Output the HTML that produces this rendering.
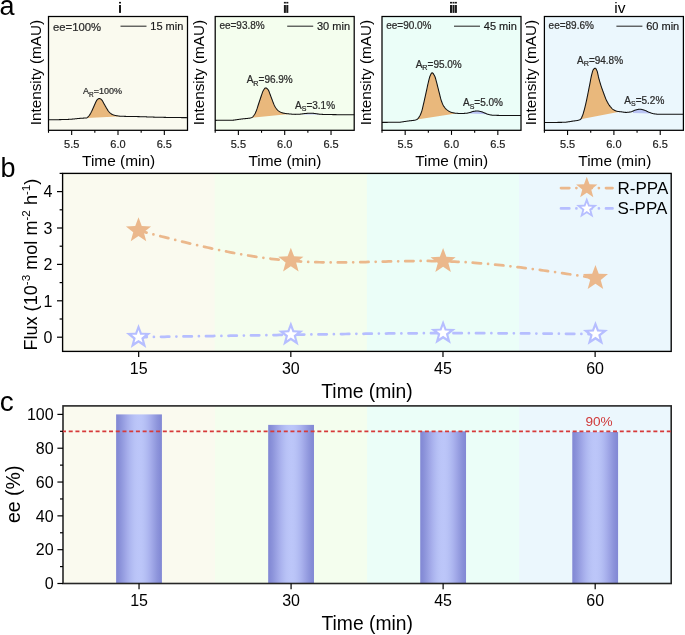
<!DOCTYPE html><html><head><meta charset="utf-8"><style>html,body{margin:0;padding:0;background:#fff;}body{width:685px;height:635px;position:relative;overflow:hidden;}svg{will-change:transform;}</style></head><body><svg width="685" height="635" viewBox="0 0 685 635" style="position:absolute;left:0;top:0">
<defs><linearGradient id="bar" x1="0" x2="1" y1="0" y2="0"><stop offset="0" stop-color="#8288D4"/><stop offset="0.05" stop-color="#868DD7"/><stop offset="0.1" stop-color="#8D94DB"/><stop offset="0.15" stop-color="#959DE0"/><stop offset="0.2" stop-color="#9EA5E6"/><stop offset="0.25" stop-color="#A6AEEB"/><stop offset="0.3" stop-color="#ADB6F0"/><stop offset="0.35" stop-color="#B3BDF3"/><stop offset="0.4" stop-color="#B8C2F6"/><stop offset="0.45" stop-color="#BBC5F8"/><stop offset="0.5" stop-color="#BCC6F9"/><stop offset="0.55" stop-color="#BBC5F8"/><stop offset="0.6" stop-color="#B8C2F6"/><stop offset="0.65" stop-color="#B3BDF3"/><stop offset="0.7" stop-color="#ADB6F0"/><stop offset="0.75" stop-color="#A6AEEB"/><stop offset="0.8" stop-color="#9EA5E6"/><stop offset="0.85" stop-color="#959DE0"/><stop offset="0.9" stop-color="#8D94DB"/><stop offset="0.95" stop-color="#868DD7"/><stop offset="1" stop-color="#8288D4"/></linearGradient></defs>
<g font-family='"Liberation Sans", sans-serif' fill="#000">
<text x="-0.6" y="15.3" font-size="27">a</text>
<text x="0.5" y="177.2" font-size="27">b</text>
<text x="-0.3" y="411.0" font-size="28">c</text>
</g>
<rect x="48.5" y="16.5" width="139.0" height="113.8" fill="#FAFAEF"/>
<path d="M86.8,117.9 87.25,117.69 87.69,117.26 88.14,116.73 88.58,116.21 89.03,115.67 89.47,115.09 89.92,114.45 90.36,113.76 90.81,113.01 91.26,112.15 91.7,111.22 92.15,110.27 92.59,109.31 93.04,108.31 93.48,107.29 93.93,106.28 94.37,105.25 94.82,104.21 95.27,103.23 95.71,102.32 96.16,101.4 96.6,100.58 97.05,99.95 97.49,99.51 97.94,99.11 98.38,98.78 98.83,98.56 99.28,98.5 99.72,98.58 100.17,98.75 100.61,98.96 101.06,99.25 101.5,99.67 101.95,100.18 102.39,100.79 102.84,101.57 103.29,102.43 103.73,103.26 104.18,104.05 104.62,104.85 105.07,105.64 105.51,106.43 105.96,107.21 106.41,107.98 106.85,108.72 107.3,109.44 107.74,110.16 108.19,110.83 108.63,111.41 109.08,111.93 109.52,112.41 109.97,112.84 110.42,113.23 110.86,113.56 111.31,113.88 111.75,114.17 112.2,114.43 112.64,114.65 113.09,114.84 113.53,114.99 113.98,115.12 114.43,115.25 114.87,115.36 115.32,115.46 115.76,115.55 116.21,115.63 116.65,115.71 117.1,115.78 117.54,115.86 117.99,115.93 118.44,115.99 118.88,116.05 119.33,116.1 119.77,116.15 120.22,116.18 120.66,116.21 121.11,116.24 121.55,116.26 122,116.28Z" fill="#E9B87C"/>
<path d="M48.5,119.77 48.83,119.77 49.16,119.76 49.5,119.76 49.83,119.76 50.16,119.76 50.49,119.75 50.82,119.75 51.15,119.75 51.49,119.74 51.82,119.74 52.15,119.74 52.48,119.73 52.81,119.73 53.14,119.72 53.48,119.72 53.81,119.72 54.14,119.71 54.47,119.71 54.8,119.7 55.13,119.7 55.47,119.69 55.8,119.69 56.13,119.68 56.46,119.68 56.79,119.68 57.13,119.67 57.46,119.67 57.79,119.66 58.12,119.66 58.45,119.65 58.78,119.65 59.12,119.64 59.45,119.63 59.78,119.63 60.11,119.62 60.44,119.62 60.77,119.61 61.11,119.61 61.44,119.6 61.77,119.59 62.1,119.59 62.43,119.58 62.76,119.57 63.1,119.56 63.43,119.56 63.76,119.55 64.09,119.54 64.42,119.53 64.76,119.52 65.09,119.51 65.42,119.5 65.75,119.49 66.08,119.48 66.41,119.47 66.75,119.46 67.08,119.44 67.41,119.43 67.74,119.41 68.07,119.39 68.4,119.37 68.74,119.36 69.07,119.34 69.4,119.32 69.73,119.3 70.06,119.27 70.39,119.25 70.73,119.23 71.06,119.21 71.39,119.18 71.72,119.16 72.05,119.13 72.39,119.11 72.72,119.08 73.05,119.05 73.38,119.02 73.71,118.99 74.04,118.95 74.38,118.91 74.71,118.88 75.04,118.84 75.37,118.8 75.7,118.76 76.03,118.72 76.37,118.68 76.7,118.65 77.03,118.62 77.36,118.59 77.69,118.56 78.03,118.53 78.36,118.5 78.69,118.47 79.02,118.45 79.35,118.42 79.68,118.39 80.02,118.37 80.35,118.34 80.68,118.32 81.01,118.29 81.34,118.27 81.67,118.24 82.01,118.22 82.34,118.2 82.67,118.17 83,118.15 83.33,118.13 83.66,118.11 84,118.1 84.33,118.08 84.66,118.07 84.99,118.05 85.32,118.04 85.66,118.01 85.99,117.99 86.32,117.96 86.65,117.92 86.98,117.85 87.31,117.64 87.65,117.31 87.98,116.92 88.31,116.52 88.64,116.14 88.97,115.74 89.3,115.32 89.64,114.86 89.97,114.37 90.3,113.86 90.63,113.32 90.96,112.72 91.29,112.07 91.63,111.38 91.96,110.67 92.29,109.97 92.62,109.24 92.95,108.5 93.29,107.74 93.62,106.98 93.95,106.23 94.28,105.47 94.61,104.69 94.94,103.93 95.28,103.21 95.61,102.53 95.94,101.85 96.27,101.18 96.6,100.58 96.93,100.09 97.27,99.74 97.6,99.41 97.93,99.12 98.26,98.86 98.59,98.66 98.92,98.53 99.26,98.5 99.59,98.55 99.92,98.65 100.25,98.79 100.58,98.94 100.92,99.14 101.25,99.42 101.58,99.75 101.91,100.13 102.24,100.56 102.57,101.09 102.91,101.69 103.24,102.33 103.57,102.96 103.9,103.56 104.23,104.15 104.56,104.74 104.9,105.34 105.23,105.92 105.56,106.51 105.89,107.09 106.22,107.67 106.55,108.23 106.89,108.78 107.22,109.32 107.55,109.85 107.88,110.37 108.21,110.86 108.55,111.3 108.88,111.7 109.21,112.07 109.54,112.42 109.87,112.75 110.2,113.05 110.54,113.32 110.87,113.57 111.2,113.8 111.53,114.03 111.86,114.23 112.19,114.43 112.53,114.6 112.86,114.75 113.19,114.87 113.52,114.98 113.85,115.09 114.18,115.18 114.52,115.27 114.85,115.35 115.18,115.43 115.51,115.5 115.84,115.56 116.18,115.63 116.51,115.68 116.84,115.74 117.17,115.8 117.5,115.85 117.83,115.9 118.17,115.95 118.5,116 118.83,116.04 119.16,116.08 119.49,116.12 119.82,116.15 120.16,116.18 120.49,116.2 120.82,116.22 121.15,116.24 121.48,116.26 121.82,116.27 122.15,116.28 122.48,116.3 122.81,116.31 123.14,116.32 123.47,116.33 123.81,116.34 124.14,116.35 124.47,116.36 124.8,116.37 125.13,116.38 125.46,116.39 125.8,116.39 126.13,116.4 126.46,116.41 126.79,116.42 127.12,116.42 127.45,116.43 127.79,116.44 128.12,116.44 128.45,116.45 128.78,116.46 129.11,116.46 129.45,116.47 129.78,116.47 130.11,116.48 130.44,116.48 130.77,116.49 131.1,116.49 131.44,116.5 131.77,116.5 132.1,116.51 132.43,116.51 132.76,116.52 133.09,116.52 133.43,116.53 133.76,116.54 134.09,116.54 134.42,116.55 134.75,116.55 135.08,116.56 135.42,116.56 135.75,116.57 136.08,116.57 136.41,116.58 136.74,116.58 137.08,116.59 137.41,116.6 137.74,116.6 138.07,116.61 138.4,116.62 138.73,116.62 139.07,116.63 139.4,116.64 139.73,116.65 140.06,116.65 140.39,116.66 140.72,116.67 141.06,116.68 141.39,116.69 141.72,116.7 142.05,116.71 142.38,116.72 142.71,116.73 143.05,116.74 143.38,116.75 143.71,116.76 144.04,116.78 144.37,116.79 144.71,116.8 145.04,116.81 145.37,116.82 145.7,116.84 146.03,116.85 146.36,116.86 146.7,116.87 147.03,116.89 147.36,116.9 147.69,116.91 148.02,116.92 148.35,116.94 148.69,116.95 149.02,116.96 149.35,116.97 149.68,116.99 150.01,117 150.34,117.01 150.68,117.02 151.01,117.03 151.34,117.05 151.67,117.06 152,117.07 152.34,117.08 152.67,117.09 153,117.1 153.33,117.11 153.66,117.12 153.99,117.13 154.33,117.14 154.66,117.15 154.99,117.15 155.32,117.16 155.65,117.17 155.98,117.18 156.32,117.19 156.65,117.2 156.98,117.2 157.31,117.21 157.64,117.22 157.97,117.23 158.31,117.23 158.64,117.24 158.97,117.25 159.3,117.26 159.63,117.27 159.97,117.27 160.3,117.28 160.63,117.29 160.96,117.29 161.29,117.3 161.62,117.31 161.96,117.31 162.29,117.32 162.62,117.33 162.95,117.34 163.28,117.34 163.61,117.35 163.95,117.35 164.28,117.36 164.61,117.37 164.94,117.37 165.27,117.38 165.61,117.39 165.94,117.39 166.27,117.4 166.6,117.4 166.93,117.41 167.26,117.41 167.6,117.42 167.93,117.42 168.26,117.43 168.59,117.43 168.92,117.44 169.25,117.44 169.59,117.45 169.92,117.45 170.25,117.46 170.58,117.46 170.91,117.47 171.24,117.47 171.58,117.48 171.91,117.48 172.24,117.49 172.57,117.49 172.9,117.5 173.24,117.5 173.57,117.51 173.9,117.51 174.23,117.51 174.56,117.52 174.89,117.52 175.23,117.53 175.56,117.53 175.89,117.54 176.22,117.54 176.55,117.54 176.88,117.55 177.22,117.55 177.55,117.56 177.88,117.56 178.21,117.56 178.54,117.57 178.87,117.57 179.21,117.58 179.54,117.58 179.87,117.58 180.2,117.59 180.53,117.59 180.87,117.59 181.2,117.6 181.53,117.6 181.86,117.6 182.19,117.61 182.52,117.61 182.86,117.61 183.19,117.62 183.52,117.62 183.85,117.62 184.18,117.63 184.51,117.63 184.85,117.63 185.18,117.63 185.51,117.64 185.84,117.64 186.17,117.64 186.5,117.64 186.84,117.65 187.17,117.65 187.5,117.65" fill="none" stroke="#111" stroke-width="1.05" stroke-linejoin="round"/>
<rect x="48.5" y="16.5" width="139.0" height="113.8" fill="none" stroke="#000" stroke-width="1.25"/>
<line x1="48.5" y1="130.3" x2="48.5" y2="132.8" stroke="#000" stroke-width="1.1"/>
<line x1="71.67" y1="130.3" x2="71.67" y2="134.9" stroke="#000" stroke-width="1.1"/>
<line x1="94.83" y1="130.3" x2="94.83" y2="132.8" stroke="#000" stroke-width="1.1"/>
<line x1="118" y1="130.3" x2="118" y2="134.9" stroke="#000" stroke-width="1.1"/>
<line x1="141.17" y1="130.3" x2="141.17" y2="132.8" stroke="#000" stroke-width="1.1"/>
<line x1="164.33" y1="130.3" x2="164.33" y2="134.9" stroke="#000" stroke-width="1.1"/>
<g font-family='"Liberation Sans", sans-serif' font-size="11" fill="#1a1a1a" stroke="#1a1a1a" stroke-width="0.18" text-anchor="middle">
<text x="71.67" y="147.5">5.5</text>
<text x="118" y="147.5">6.0</text>
<text x="164.33" y="147.5">6.5</text>
</g>
<text x="118.6" y="165.5" font-family='"Liberation Sans", sans-serif' font-size="15.4" text-anchor="middle" fill="#000">Time (min)</text>
<text transform="translate(41.4,72.6) rotate(-90)" font-family='"Liberation Sans", sans-serif' font-size="15.3" text-anchor="middle" fill="#000">Intensity (mAU)</text>
<text x="53.0" y="31.3" font-family='"Liberation Sans", sans-serif' font-size="11.3" fill="#2a2a2a" stroke="#2a2a2a" stroke-width="0.22">ee=100%</text>
<line x1="120.5" y1="26.2" x2="146.5" y2="26.2" stroke="#333" stroke-width="1.1"/>
<text x="150.3" y="30" font-family='"Liberation Sans", sans-serif' font-size="11" fill="#1a1a1a" stroke="#1a1a1a" stroke-width="0.18">15 min</text>
<text x="83" y="93.5" font-family='"Liberation Sans", sans-serif' font-size="9" fill="#2a2a2a" stroke="#2a2a2a" stroke-width="0.22">A<tspan font-size="6.48" dy="3">R</tspan><tspan dy="-3">=100%</tspan></text>
<rect x="215.2" y="16.5" width="139.0" height="113.8" fill="#F4FEEE"/>
<path d="M251.5,117.7 251.98,117.46 252.46,117.09 252.94,116.6 253.42,116.03 253.91,115.42 254.39,114.75 254.87,113.93 255.35,112.97 255.83,111.91 256.31,110.77 256.79,109.51 257.27,108.04 257.75,106.51 258.23,105.04 258.72,103.58 259.2,102.13 259.68,100.68 260.16,99.22 260.64,97.75 261.12,96.31 261.6,94.92 262.08,93.48 262.56,92.11 263.04,91 263.53,90.2 264.01,89.43 264.49,88.76 264.97,88.24 265.45,87.94 265.93,87.92 266.41,88.1 266.89,88.43 267.37,88.87 267.85,89.39 268.34,89.99 268.82,90.96 269.3,92.23 269.78,93.53 270.26,94.78 270.74,96.08 271.22,97.39 271.7,98.68 272.18,99.98 272.66,101.27 273.15,102.49 273.63,103.69 274.11,104.84 274.59,105.85 275.07,106.71 275.55,107.5 276.03,108.21 276.51,108.84 276.99,109.4 277.47,109.92 277.96,110.4 278.44,110.84 278.92,111.22 279.4,111.54 279.88,111.81 280.36,112.05 280.84,112.27 281.32,112.47 281.8,112.65 282.28,112.8 282.77,112.93 283.25,113.05 283.73,113.16 284.21,113.25 284.69,113.34 285.17,113.42 285.65,113.49 286.13,113.56 286.61,113.63 287.09,113.69 287.58,113.74 288.06,113.8 288.54,113.84 289.02,113.89 289.5,113.94Z" fill="#E9B87C"/>
<path d="M303.5,113.7 303.91,113.64 304.32,113.59 304.73,113.54 305.14,113.5 305.55,113.47 305.96,113.45 306.37,113.42 306.78,113.39 307.19,113.36 307.6,113.33 308.01,113.31 308.42,113.29 308.83,113.27 309.24,113.25 309.65,113.23 310.06,113.22 310.47,113.21 310.88,113.2 311.29,113.2 311.71,113.2 312.12,113.22 312.53,113.25 312.94,113.28 313.35,113.33 313.76,113.38 314.17,113.43 314.58,113.49 314.99,113.54 315.4,113.6 315.81,113.66 316.22,113.71 316.63,113.77 317.04,113.82 317.45,113.89 317.86,113.95 318.27,114.02 318.68,114.09 319.09,114.15 319.5,114.21 L319.5,114.5 L303.5,114.45Z" fill="#BAC4F4"/>
<path d="M215.2,120.35 215.53,120.35 215.86,120.35 216.2,120.35 216.53,120.35 216.86,120.34 217.19,120.34 217.52,120.34 217.85,120.34 218.19,120.34 218.52,120.34 218.85,120.33 219.18,120.33 219.51,120.33 219.84,120.33 220.18,120.33 220.51,120.32 220.84,120.32 221.17,120.32 221.5,120.32 221.83,120.32 222.17,120.31 222.5,120.31 222.83,120.31 223.16,120.31 223.49,120.3 223.83,120.3 224.16,120.3 224.49,120.3 224.82,120.29 225.15,120.29 225.48,120.29 225.82,120.29 226.15,120.28 226.48,120.28 226.81,120.28 227.14,120.28 227.47,120.27 227.81,120.27 228.14,120.27 228.47,120.26 228.8,120.26 229.13,120.26 229.46,120.25 229.8,120.25 230.13,120.24 230.46,120.24 230.79,120.23 231.12,120.23 231.46,120.22 231.79,120.22 232.12,120.21 232.45,120.2 232.78,120.19 233.11,120.17 233.45,120.14 233.78,120.11 234.11,120.07 234.44,120.02 234.77,119.97 235.1,119.92 235.44,119.87 235.77,119.82 236.1,119.76 236.43,119.71 236.76,119.66 237.09,119.61 237.43,119.57 237.76,119.53 238.09,119.48 238.42,119.43 238.75,119.39 239.09,119.34 239.42,119.29 239.75,119.25 240.08,119.2 240.41,119.16 240.74,119.11 241.08,119.07 241.41,119.02 241.74,118.98 242.07,118.94 242.4,118.9 242.73,118.86 243.07,118.83 243.4,118.79 243.73,118.76 244.06,118.73 244.39,118.7 244.73,118.67 245.06,118.64 245.39,118.61 245.72,118.58 246.05,118.55 246.38,118.52 246.72,118.49 247.05,118.45 247.38,118.41 247.71,118.38 248.04,118.33 248.37,118.29 248.71,118.25 249.04,118.2 249.37,118.16 249.7,118.11 250.03,118.05 250.36,117.99 250.7,117.92 251.03,117.84 251.36,117.74 251.69,117.62 252.02,117.44 252.36,117.18 252.69,116.87 253.02,116.52 253.35,116.12 253.68,115.71 254.01,115.27 254.35,114.81 254.68,114.27 255.01,113.66 255.34,112.99 255.67,112.26 256,111.5 256.34,110.71 256.67,109.85 257,108.89 257.33,107.85 257.66,106.8 257.99,105.76 258.33,104.76 258.66,103.76 258.99,102.75 259.32,101.75 259.65,100.75 259.99,99.75 260.32,98.74 260.65,97.72 260.98,96.72 261.31,95.75 261.64,94.8 261.98,93.81 262.31,92.82 262.64,91.91 262.97,91.15 263.3,90.56 263.63,90.02 263.97,89.49 264.3,89.01 264.63,88.58 264.96,88.24 265.29,88.01 265.62,87.9 265.96,87.93 266.29,88.04 266.62,88.23 266.95,88.48 267.28,88.78 267.62,89.13 267.95,89.5 268.28,89.9 268.61,90.49 268.94,91.28 269.27,92.17 269.61,93.08 269.94,93.94 270.27,94.8 270.6,95.7 270.93,96.6 271.26,97.5 271.6,98.39 271.93,99.29 272.26,100.19 272.59,101.08 272.92,101.93 273.25,102.76 273.59,103.59 273.92,104.4 274.25,105.16 274.58,105.84 274.91,106.44 275.25,107.01 275.58,107.54 275.91,108.04 276.24,108.5 276.57,108.92 276.9,109.3 277.24,109.67 277.57,110.02 277.9,110.35 278.23,110.66 278.56,110.94 278.89,111.2 279.23,111.43 279.56,111.63 279.89,111.81 280.22,111.98 280.55,112.14 280.88,112.29 281.22,112.43 281.55,112.56 281.88,112.68 282.21,112.78 282.54,112.88 282.88,112.96 283.21,113.04 283.54,113.12 283.87,113.19 284.2,113.25 284.53,113.31 284.87,113.37 285.2,113.42 285.53,113.48 285.86,113.53 286.19,113.57 286.52,113.62 286.86,113.66 287.19,113.7 287.52,113.74 287.85,113.77 288.18,113.81 288.52,113.84 288.85,113.87 289.18,113.91 289.51,113.94 289.84,113.97 290.17,114 290.51,114.03 290.84,114.06 291.17,114.09 291.5,114.12 291.83,114.16 292.16,114.19 292.5,114.22 292.83,114.25 293.16,114.27 293.49,114.3 293.82,114.32 294.15,114.33 294.49,114.34 294.82,114.35 295.15,114.35 295.48,114.35 295.81,114.34 296.15,114.34 296.48,114.33 296.81,114.32 297.14,114.31 297.47,114.29 297.8,114.28 298.14,114.26 298.47,114.24 298.8,114.23 299.13,114.21 299.46,114.19 299.79,114.17 300.13,114.15 300.46,114.12 300.79,114.09 301.12,114.05 301.45,114.01 301.78,113.97 302.12,113.92 302.45,113.86 302.78,113.81 303.11,113.76 303.44,113.71 303.78,113.66 304.11,113.61 304.44,113.57 304.77,113.54 305.1,113.51 305.43,113.48 305.77,113.46 306.1,113.44 306.43,113.41 306.76,113.39 307.09,113.37 307.42,113.35 307.76,113.33 308.09,113.31 308.42,113.29 308.75,113.27 309.08,113.25 309.41,113.24 309.75,113.23 310.08,113.22 310.41,113.21 310.74,113.2 311.07,113.2 311.41,113.2 311.74,113.21 312.07,113.22 312.4,113.24 312.73,113.26 313.06,113.3 313.4,113.33 313.73,113.37 314.06,113.41 314.39,113.46 314.72,113.51 315.05,113.55 315.39,113.6 315.72,113.65 316.05,113.69 316.38,113.74 316.71,113.78 317.04,113.82 317.38,113.87 317.71,113.93 318.04,113.98 318.37,114.04 318.7,114.09 319.04,114.14 319.37,114.19 319.7,114.23 320.03,114.27 320.36,114.29 320.69,114.31 321.03,114.33 321.36,114.34 321.69,114.35 322.02,114.37 322.35,114.38 322.68,114.39 323.02,114.41 323.35,114.42 323.68,114.43 324.01,114.44 324.34,114.45 324.67,114.46 325.01,114.46 325.34,114.47 325.67,114.48 326,114.49 326.33,114.49 326.67,114.5 327,114.51 327.33,114.51 327.66,114.52 327.99,114.53 328.32,114.53 328.66,114.54 328.99,114.54 329.32,114.55 329.65,114.55 329.98,114.56 330.31,114.57 330.65,114.57 330.98,114.58 331.31,114.58 331.64,114.59 331.97,114.59 332.31,114.6 332.64,114.6 332.97,114.6 333.3,114.61 333.63,114.61 333.96,114.62 334.3,114.62 334.63,114.62 334.96,114.63 335.29,114.63 335.62,114.64 335.95,114.64 336.29,114.64 336.62,114.65 336.95,114.65 337.28,114.65 337.61,114.66 337.94,114.66 338.28,114.66 338.61,114.67 338.94,114.67 339.27,114.67 339.6,114.68 339.94,114.68 340.27,114.68 340.6,114.69 340.93,114.69 341.26,114.69 341.59,114.7 341.93,114.7 342.26,114.7 342.59,114.71 342.92,114.71 343.25,114.71 343.58,114.72 343.92,114.72 344.25,114.72 344.58,114.72 344.91,114.73 345.24,114.73 345.57,114.73 345.91,114.74 346.24,114.74 346.57,114.74 346.9,114.74 347.23,114.75 347.57,114.75 347.9,114.75 348.23,114.76 348.56,114.76 348.89,114.76 349.22,114.76 349.56,114.77 349.89,114.77 350.22,114.77 350.55,114.77 350.88,114.78 351.21,114.78 351.55,114.78 351.88,114.78 352.21,114.79 352.54,114.79 352.87,114.79 353.2,114.79 353.54,114.8 353.87,114.8 354.2,114.8" fill="none" stroke="#111" stroke-width="1.05" stroke-linejoin="round"/>
<rect x="215.2" y="16.5" width="139.0" height="113.8" fill="none" stroke="#000" stroke-width="1.25"/>
<line x1="215.2" y1="130.3" x2="215.2" y2="132.8" stroke="#000" stroke-width="1.1"/>
<line x1="238.37" y1="130.3" x2="238.37" y2="134.9" stroke="#000" stroke-width="1.1"/>
<line x1="261.53" y1="130.3" x2="261.53" y2="132.8" stroke="#000" stroke-width="1.1"/>
<line x1="284.7" y1="130.3" x2="284.7" y2="134.9" stroke="#000" stroke-width="1.1"/>
<line x1="307.87" y1="130.3" x2="307.87" y2="132.8" stroke="#000" stroke-width="1.1"/>
<line x1="331.03" y1="130.3" x2="331.03" y2="134.9" stroke="#000" stroke-width="1.1"/>
<g font-family='"Liberation Sans", sans-serif' font-size="11" fill="#1a1a1a" stroke="#1a1a1a" stroke-width="0.18" text-anchor="middle">
<text x="238.37" y="147.5">5.5</text>
<text x="284.7" y="147.5">6.0</text>
<text x="331.03" y="147.5">6.5</text>
</g>
<text x="285" y="165.5" font-family='"Liberation Sans", sans-serif' font-size="15.4" text-anchor="middle" fill="#000">Time (min)</text>
<text transform="translate(204,72.6) rotate(-90)" font-family='"Liberation Sans", sans-serif' font-size="15.3" text-anchor="middle" fill="#000">Intensity (mAU)</text>
<text x="219.4" y="29.4" font-family='"Liberation Sans", sans-serif' font-size="10" fill="#2a2a2a" stroke="#2a2a2a" stroke-width="0.22">ee=93.8%</text>
<line x1="287.2" y1="26.2" x2="313.2" y2="26.2" stroke="#333" stroke-width="1.1"/>
<text x="317" y="30" font-family='"Liberation Sans", sans-serif' font-size="11" fill="#1a1a1a" stroke="#1a1a1a" stroke-width="0.18">30 min</text>
<text x="246.7" y="83.4" font-family='"Liberation Sans", sans-serif' font-size="10" fill="#2a2a2a" stroke="#2a2a2a" stroke-width="0.22">A<tspan font-size="7.2" dy="2.2">R</tspan><tspan dy="-2.2">=96.9%</tspan></text>
<text x="295.1" y="108.6" font-family='"Liberation Sans", sans-serif' font-size="10" fill="#2a2a2a" stroke="#2a2a2a" stroke-width="0.22">A<tspan font-size="7" dy="2.2">S</tspan><tspan dy="-2.2">=3.1%</tspan></text>
<rect x="382" y="16.5" width="139.0" height="113.8" fill="#EBFEF8"/>
<path d="M417,119.4 417.51,119.03 418.03,118.49 418.54,117.81 419.05,117.03 419.56,116.2 420.08,115.29 420.59,114.22 421.1,112.97 421.61,111.55 422.13,109.9 422.64,107.85 423.15,105.61 423.66,103.39 424.18,101.11 424.69,98.77 425.2,96.45 425.72,94.13 426.23,91.81 426.74,89.49 427.25,87.13 427.77,84.77 428.28,82.55 428.79,80.41 429.3,78.33 429.82,76.61 430.33,75.4 430.84,74.28 431.35,73.38 431.87,72.86 432.38,72.86 432.89,73.22 433.41,73.85 433.92,74.67 434.43,75.59 434.94,76.63 435.46,78.16 435.97,79.94 436.48,81.81 436.99,83.87 437.51,85.92 438.02,87.98 438.53,90.03 439.04,92.04 439.56,94.04 440.07,96.09 440.58,98.15 441.09,99.95 441.61,101.52 442.12,102.84 442.63,104.03 443.15,105.1 443.66,106.02 444.17,106.79 444.68,107.5 445.2,108.14 445.71,108.72 446.22,109.23 446.73,109.69 447.25,110.09 447.76,110.46 448.27,110.81 448.78,111.13 449.3,111.43 449.81,111.7 450.32,111.94 450.84,112.15 451.35,112.31 451.86,112.46 452.37,112.6 452.89,112.73 453.4,112.84 453.91,112.94 454.42,113.03 454.94,113.11 455.45,113.17 455.96,113.23 456.47,113.27 456.99,113.32 457.5,113.36Z" fill="#E9B87C"/>
<path d="M469.6,112.57 470.05,112.46 470.49,112.33 470.94,112.18 471.38,112.01 471.83,111.85 472.28,111.69 472.72,111.55 473.17,111.44 473.62,111.37 474.06,111.3 474.51,111.23 474.95,111.17 475.4,111.11 475.85,111.07 476.29,111.03 476.74,111.01 477.18,111 477.63,111.01 478.08,111.05 478.52,111.1 478.97,111.17 479.42,111.25 479.86,111.35 480.31,111.44 480.75,111.54 481.2,111.65 481.65,111.77 482.09,111.93 482.54,112.09 482.98,112.28 483.43,112.46 483.88,112.65 484.32,112.83 484.77,113.01 485.22,113.2 485.66,113.39 486.11,113.59 486.55,113.78 487,113.97 L487,114.3 L469.6,113.6Z" fill="#BAC4F4"/>
<path d="M382,122.4 382.33,122.4 382.66,122.39 383,122.39 383.33,122.39 383.66,122.39 383.99,122.38 384.32,122.38 384.65,122.38 384.99,122.37 385.32,122.37 385.65,122.37 385.98,122.36 386.31,122.36 386.64,122.36 386.98,122.35 387.31,122.35 387.64,122.35 387.97,122.34 388.3,122.34 388.63,122.34 388.97,122.33 389.3,122.33 389.63,122.33 389.96,122.32 390.29,122.32 390.63,122.32 390.96,122.31 391.29,122.31 391.62,122.3 391.95,122.3 392.28,122.3 392.62,122.29 392.95,122.29 393.28,122.29 393.61,122.28 393.94,122.28 394.27,122.28 394.61,122.27 394.94,122.27 395.27,122.27 395.6,122.26 395.93,122.26 396.26,122.26 396.6,122.25 396.93,122.25 397.26,122.24 397.59,122.24 397.92,122.23 398.26,122.23 398.59,122.22 398.92,122.21 399.25,122.21 399.58,122.2 399.91,122.18 400.25,122.16 400.58,122.13 400.91,122.09 401.24,122.05 401.57,122.01 401.9,121.96 402.24,121.91 402.57,121.85 402.9,121.8 403.23,121.75 403.56,121.69 403.89,121.64 404.23,121.6 404.56,121.55 404.89,121.5 405.22,121.45 405.55,121.4 405.89,121.35 406.22,121.3 406.55,121.25 406.88,121.2 407.21,121.15 407.54,121.09 407.88,121.05 408.21,121 408.54,120.95 408.87,120.9 409.2,120.86 409.53,120.82 409.87,120.78 410.2,120.75 410.53,120.72 410.86,120.68 411.19,120.65 411.53,120.62 411.86,120.59 412.19,120.55 412.52,120.52 412.85,120.48 413.18,120.44 413.52,120.39 413.85,120.35 414.18,120.29 414.51,120.24 414.84,120.17 415.17,120.1 415.51,120.01 415.84,119.9 416.17,119.78 416.5,119.64 416.83,119.49 417.16,119.3 417.5,119.04 417.83,118.71 418.16,118.32 418.49,117.87 418.82,117.39 419.16,116.87 419.49,116.32 419.82,115.77 420.15,115.15 420.48,114.46 420.81,113.69 421.15,112.85 421.48,111.95 421.81,110.97 422.14,109.85 422.47,108.55 422.8,107.13 423.14,105.68 423.47,104.24 423.8,102.8 424.13,101.31 424.46,99.81 424.79,98.3 425.13,96.8 425.46,95.3 425.79,93.79 426.12,92.29 426.45,90.78 426.79,89.28 427.12,87.76 427.45,86.22 427.78,84.71 428.11,83.25 428.44,81.87 428.78,80.48 429.11,79.1 429.44,77.83 429.77,76.74 430.1,75.92 430.43,75.16 430.77,74.44 431.1,73.79 431.43,73.28 431.76,72.93 432.09,72.8 432.42,72.88 432.76,73.09 433.09,73.43 433.42,73.87 433.75,74.39 434.08,74.96 434.42,75.57 434.75,76.19 435.08,76.99 435.41,78.01 435.74,79.14 436.07,80.31 436.41,81.52 436.74,82.83 437.07,84.17 437.4,85.5 437.73,86.83 438.06,88.16 438.4,89.49 438.73,90.8 439.06,92.1 439.39,93.39 439.72,94.69 440.05,96.03 440.39,97.38 440.72,98.66 441.05,99.8 441.38,100.86 441.71,101.81 442.05,102.66 442.38,103.45 442.71,104.19 443.04,104.89 443.37,105.52 443.7,106.1 444.04,106.6 444.37,107.07 444.7,107.52 445.03,107.94 445.36,108.33 445.69,108.7 446.03,109.04 446.36,109.36 446.69,109.65 447.02,109.92 447.35,110.16 447.68,110.4 448.02,110.64 448.35,110.86 448.68,111.07 449.01,111.27 449.34,111.46 449.68,111.63 450.01,111.8 450.34,111.95 450.67,112.08 451,112.2 451.33,112.31 451.67,112.41 452,112.5 452.33,112.59 452.66,112.67 452.99,112.75 453.32,112.83 453.66,112.89 453.99,112.96 454.32,113.02 454.65,113.07 454.98,113.12 455.32,113.16 455.65,113.19 455.98,113.23 456.31,113.26 456.64,113.29 456.97,113.32 457.31,113.35 457.64,113.37 457.97,113.39 458.3,113.42 458.63,113.43 458.96,113.45 459.3,113.46 459.63,113.47 459.96,113.47 460.29,113.47 460.62,113.47 460.95,113.46 461.29,113.46 461.62,113.46 461.95,113.45 462.28,113.44 462.61,113.43 462.95,113.42 463.28,113.41 463.61,113.4 463.94,113.39 464.27,113.37 464.6,113.36 464.94,113.34 465.27,113.33 465.6,113.31 465.93,113.29 466.26,113.26 466.59,113.22 466.93,113.17 467.26,113.12 467.59,113.05 467.92,112.98 468.25,112.91 468.58,112.83 468.92,112.74 469.25,112.66 469.58,112.58 469.91,112.5 470.24,112.41 470.58,112.3 470.91,112.19 471.24,112.07 471.57,111.94 471.9,111.82 472.23,111.7 472.57,111.6 472.9,111.51 473.23,111.43 473.56,111.37 473.89,111.32 474.22,111.27 474.56,111.22 474.89,111.18 475.22,111.13 475.55,111.1 475.88,111.06 476.21,111.04 476.55,111.02 476.88,111 477.21,111 477.54,111.01 477.87,111.03 478.21,111.06 478.54,111.1 478.87,111.15 479.2,111.21 479.53,111.28 479.86,111.35 480.2,111.42 480.53,111.49 480.86,111.57 481.19,111.65 481.52,111.74 481.85,111.84 482.19,111.96 482.52,112.09 482.85,112.22 483.18,112.36 483.51,112.5 483.84,112.64 484.18,112.77 484.51,112.9 484.84,113.04 485.17,113.18 485.5,113.32 485.84,113.47 486.17,113.62 486.5,113.76 486.83,113.9 487.16,114.03 487.49,114.15 487.83,114.25 488.16,114.34 488.49,114.43 488.82,114.51 489.15,114.6 489.48,114.68 489.82,114.76 490.15,114.83 490.48,114.9 490.81,114.97 491.14,115.02 491.47,115.08 491.81,115.12 492.14,115.16 492.47,115.19 492.8,115.21 493.13,115.22 493.47,115.24 493.8,115.25 494.13,115.27 494.46,115.28 494.79,115.29 495.12,115.31 495.46,115.32 495.79,115.33 496.12,115.34 496.45,115.35 496.78,115.36 497.11,115.37 497.45,115.37 497.78,115.38 498.11,115.39 498.44,115.39 498.77,115.39 499.11,115.4 499.44,115.4 499.77,115.4 500.1,115.4 500.43,115.4 500.76,115.4 501.1,115.4 501.43,115.4 501.76,115.4 502.09,115.4 502.42,115.4 502.75,115.4 503.09,115.4 503.42,115.4 503.75,115.4 504.08,115.4 504.41,115.4 504.74,115.4 505.08,115.4 505.41,115.4 505.74,115.4 506.07,115.4 506.4,115.4 506.74,115.4 507.07,115.4 507.4,115.4 507.73,115.4 508.06,115.4 508.39,115.4 508.73,115.4 509.06,115.4 509.39,115.4 509.72,115.4 510.05,115.4 510.38,115.4 510.72,115.4 511.05,115.4 511.38,115.4 511.71,115.4 512.04,115.4 512.37,115.4 512.71,115.4 513.04,115.4 513.37,115.4 513.7,115.4 514.03,115.4 514.37,115.4 514.7,115.4 515.03,115.4 515.36,115.4 515.69,115.4 516.02,115.4 516.36,115.4 516.69,115.4 517.02,115.4 517.35,115.4 517.68,115.4 518.01,115.4 518.35,115.4 518.68,115.4 519.01,115.4 519.34,115.4 519.67,115.4 520,115.4 520.34,115.4 520.67,115.4 521,115.4" fill="none" stroke="#111" stroke-width="1.05" stroke-linejoin="round"/>
<rect x="382" y="16.5" width="139.0" height="113.8" fill="none" stroke="#000" stroke-width="1.25"/>
<line x1="382" y1="130.3" x2="382" y2="132.8" stroke="#000" stroke-width="1.1"/>
<line x1="405.17" y1="130.3" x2="405.17" y2="134.9" stroke="#000" stroke-width="1.1"/>
<line x1="428.33" y1="130.3" x2="428.33" y2="132.8" stroke="#000" stroke-width="1.1"/>
<line x1="451.5" y1="130.3" x2="451.5" y2="134.9" stroke="#000" stroke-width="1.1"/>
<line x1="474.67" y1="130.3" x2="474.67" y2="132.8" stroke="#000" stroke-width="1.1"/>
<line x1="497.83" y1="130.3" x2="497.83" y2="134.9" stroke="#000" stroke-width="1.1"/>
<g font-family='"Liberation Sans", sans-serif' font-size="11" fill="#1a1a1a" stroke="#1a1a1a" stroke-width="0.18" text-anchor="middle">
<text x="405.17" y="147.5">5.5</text>
<text x="451.5" y="147.5">6.0</text>
<text x="497.83" y="147.5">6.5</text>
</g>
<text x="451.7" y="165.5" font-family='"Liberation Sans", sans-serif' font-size="15.4" text-anchor="middle" fill="#000">Time (min)</text>
<text transform="translate(370.5,72.6) rotate(-90)" font-family='"Liberation Sans", sans-serif' font-size="15.3" text-anchor="middle" fill="#000">Intensity (mAU)</text>
<text x="386.2" y="29.4" font-family='"Liberation Sans", sans-serif' font-size="10" fill="#2a2a2a" stroke="#2a2a2a" stroke-width="0.22">ee=90.0%</text>
<line x1="454" y1="26.2" x2="480" y2="26.2" stroke="#333" stroke-width="1.1"/>
<text x="483.8" y="30" font-family='"Liberation Sans", sans-serif' font-size="11" fill="#1a1a1a" stroke="#1a1a1a" stroke-width="0.18">45 min</text>
<text x="415.7" y="68" font-family='"Liberation Sans", sans-serif' font-size="10" fill="#2a2a2a" stroke="#2a2a2a" stroke-width="0.22">A<tspan font-size="7.2" dy="2.2">R</tspan><tspan dy="-2.2">=95.0%</tspan></text>
<text x="463" y="106.4" font-family='"Liberation Sans", sans-serif' font-size="10" fill="#2a2a2a" stroke="#2a2a2a" stroke-width="0.22">A<tspan font-size="7" dy="2.2">S</tspan><tspan dy="-2.2">=5.0%</tspan></text>
<rect x="544.4" y="16.5" width="139.0" height="113.8" fill="#EBF7FD"/>
<path d="M580.5,119.35 580.99,118.81 581.49,117.94 581.98,116.84 582.47,115.66 582.97,114.32 583.46,112.71 583.96,110.95 584.45,109.15 584.94,107.26 585.44,105.25 585.93,103.14 586.42,100.93 586.92,98.58 587.41,96.13 587.91,93.67 588.4,91.21 588.89,88.71 589.39,86.2 589.88,83.69 590.37,81.05 590.87,78.38 591.36,75.99 591.85,74.02 592.35,72.18 592.84,70.61 593.34,69.58 593.83,69.02 594.32,68.57 594.82,68.28 595.31,68.21 595.8,68.59 596.3,69.36 596.79,70.35 597.28,71.61 597.78,73.67 598.27,76.05 598.77,78.15 599.26,79.95 599.75,81.67 600.25,83.31 600.74,84.89 601.23,86.42 601.73,87.88 602.22,89.28 602.72,90.65 603.21,92 603.7,93.34 604.2,94.69 604.69,96.05 605.18,97.38 605.68,98.63 606.17,99.75 606.66,100.77 607.16,101.72 607.65,102.62 608.15,103.46 608.64,104.25 609.13,105 609.63,105.7 610.12,106.35 610.61,106.97 611.11,107.54 611.6,108.1 612.09,108.63 612.59,109.09 613.08,109.45 613.58,109.76 614.07,110.05 614.56,110.32 615.06,110.56 615.55,110.78 616.04,110.97 616.54,111.14 617.03,111.26 617.53,111.36 618.02,111.45 618.51,111.52 619.01,111.58 619.5,111.64Z" fill="#E9B87C"/>
<path d="M633,111.05 633.44,110.84 633.89,110.63 634.33,110.43 634.77,110.26 635.22,110.12 635.66,110.01 636.11,109.89 636.55,109.77 636.99,109.66 637.44,109.55 637.88,109.45 638.32,109.36 638.77,109.29 639.21,109.24 639.65,109.21 640.1,109.2 640.54,109.22 640.98,109.27 641.43,109.35 641.87,109.45 642.32,109.56 642.76,109.69 643.2,109.82 643.65,109.96 644.09,110.11 644.53,110.25 644.98,110.39 645.42,110.56 645.86,110.75 646.31,110.95 646.75,111.17 647.19,111.39 647.64,111.61 648.08,111.83 648.53,112.04 648.97,112.23 649.41,112.4 649.86,112.57 650.3,112.73 L650.3,113.4 L633,112.9Z" fill="#BAC4F4"/>
<path d="M544.4,122.4 544.73,122.4 545.06,122.4 545.4,122.4 545.73,122.4 546.06,122.4 546.39,122.4 546.72,122.4 547.05,122.4 547.39,122.4 547.72,122.4 548.05,122.4 548.38,122.4 548.71,122.4 549.04,122.4 549.38,122.4 549.71,122.4 550.04,122.4 550.37,122.4 550.7,122.4 551.03,122.4 551.37,122.4 551.7,122.4 552.03,122.4 552.36,122.4 552.69,122.4 553.03,122.4 553.36,122.4 553.69,122.4 554.02,122.4 554.35,122.4 554.68,122.4 555.02,122.4 555.35,122.4 555.68,122.4 556.01,122.4 556.34,122.4 556.67,122.4 557.01,122.4 557.34,122.4 557.67,122.39 558,122.39 558.33,122.39 558.66,122.39 559,122.39 559.33,122.38 559.66,122.38 559.99,122.38 560.32,122.37 560.66,122.37 560.99,122.36 561.32,122.36 561.65,122.35 561.98,122.35 562.31,122.34 562.65,122.34 562.98,122.33 563.31,122.32 563.64,122.32 563.97,122.31 564.3,122.3 564.64,122.29 564.97,122.27 565.3,122.25 565.63,122.21 565.96,122.17 566.29,122.13 566.63,122.08 566.96,122.03 567.29,121.98 567.62,121.93 567.95,121.88 568.29,121.83 568.62,121.78 568.95,121.74 569.28,121.69 569.61,121.64 569.94,121.58 570.28,121.53 570.61,121.47 570.94,121.42 571.27,121.36 571.6,121.31 571.93,121.25 572.27,121.2 572.6,121.14 572.93,121.09 573.26,121.04 573.59,120.99 573.93,120.95 574.26,120.9 574.59,120.86 574.92,120.82 575.25,120.78 575.58,120.74 575.92,120.69 576.25,120.65 576.58,120.6 576.91,120.54 577.24,120.48 577.57,120.42 577.91,120.35 578.24,120.27 578.57,120.19 578.9,120.09 579.23,119.98 579.56,119.85 579.9,119.7 580.23,119.52 580.56,119.31 580.89,118.96 581.22,118.44 581.56,117.8 581.89,117.06 582.22,116.28 582.55,115.48 582.88,114.58 583.21,113.55 583.55,112.42 583.88,111.24 584.21,110.03 584.54,108.81 584.87,107.54 585.2,106.21 585.54,104.83 585.87,103.42 586.2,101.96 586.53,100.43 586.86,98.84 587.19,97.21 587.53,95.56 587.86,93.9 588.19,92.26 588.52,90.59 588.85,88.91 589.19,87.22 589.52,85.54 589.85,83.85 590.18,82.1 590.51,80.29 590.84,78.51 591.18,76.84 591.51,75.36 591.84,74.08 592.17,72.82 592.5,71.65 592.83,70.63 593.17,69.86 593.5,69.39 593.83,69.02 594.16,68.7 594.49,68.45 594.82,68.27 595.16,68.2 595.49,68.3 595.82,68.61 596.15,69.1 596.48,69.71 596.82,70.4 597.15,71.17 597.48,72.34 597.81,73.82 598.14,75.43 598.47,76.97 598.81,78.3 599.14,79.51 599.47,80.69 599.8,81.83 600.13,82.94 600.46,84.01 600.8,85.07 601.13,86.09 601.46,87.09 601.79,88.06 602.12,89.01 602.45,89.94 602.79,90.85 603.12,91.75 603.45,92.65 603.78,93.55 604.11,94.46 604.45,95.38 604.78,96.29 605.11,97.19 605.44,98.05 605.77,98.86 606.1,99.61 606.44,100.31 606.77,100.97 607.1,101.61 607.43,102.23 607.76,102.81 608.09,103.38 608.43,103.92 608.76,104.44 609.09,104.93 609.42,105.41 609.75,105.87 610.08,106.31 610.42,106.73 610.75,107.12 611.08,107.51 611.41,107.89 611.74,108.26 612.08,108.61 612.41,108.93 612.74,109.21 613.07,109.45 613.4,109.66 613.73,109.86 614.07,110.05 614.4,110.23 614.73,110.41 615.06,110.57 615.39,110.72 615.72,110.85 616.06,110.98 616.39,111.09 616.72,111.19 617.05,111.27 617.38,111.34 617.72,111.4 618.05,111.45 618.38,111.5 618.71,111.54 619.04,111.59 619.37,111.62 619.71,111.66 620.04,111.7 620.37,111.73 620.7,111.77 621.03,111.81 621.36,111.85 621.7,111.89 622.03,111.94 622.36,111.99 622.69,112.04 623.02,112.09 623.35,112.14 623.69,112.19 624.02,112.24 624.35,112.29 624.68,112.32 625.01,112.36 625.35,112.38 625.68,112.39 626.01,112.4 626.34,112.4 626.67,112.39 627,112.37 627.34,112.35 627.67,112.32 628,112.29 628.33,112.25 628.66,112.21 628.99,112.17 629.33,112.12 629.66,112.07 629.99,112.02 630.32,111.96 630.65,111.91 630.98,111.84 631.32,111.75 631.65,111.64 631.98,111.51 632.31,111.37 632.64,111.22 632.98,111.06 633.31,110.9 633.64,110.75 633.97,110.59 634.3,110.45 634.63,110.31 634.97,110.2 635.3,110.1 635.63,110.01 635.96,109.93 636.29,109.84 636.62,109.75 636.96,109.66 637.29,109.58 637.62,109.51 637.95,109.43 638.28,109.37 638.61,109.31 638.95,109.27 639.28,109.23 639.61,109.21 639.94,109.2 640.27,109.21 640.61,109.23 640.94,109.27 641.27,109.32 641.6,109.39 641.93,109.46 642.26,109.55 642.6,109.64 642.93,109.74 643.26,109.84 643.59,109.95 643.92,110.05 644.25,110.16 644.59,110.26 644.92,110.37 645.25,110.49 645.58,110.62 645.91,110.77 646.24,110.92 646.58,111.08 646.91,111.25 647.24,111.41 647.57,111.58 647.9,111.75 648.24,111.91 648.57,112.06 648.9,112.2 649.23,112.34 649.56,112.46 649.89,112.58 650.23,112.7 650.56,112.82 650.89,112.94 651.22,113.06 651.55,113.17 651.88,113.28 652.22,113.39 652.55,113.48 652.88,113.57 653.21,113.65 653.54,113.72 653.87,113.78 654.21,113.83 654.54,113.88 654.87,113.93 655.2,113.97 655.53,114.01 655.87,114.05 656.2,114.09 656.53,114.12 656.86,114.15 657.19,114.17 657.52,114.19 657.86,114.2 658.19,114.2 658.52,114.21 658.85,114.21 659.18,114.22 659.51,114.23 659.85,114.23 660.18,114.23 660.51,114.24 660.84,114.24 661.17,114.25 661.51,114.25 661.84,114.26 662.17,114.26 662.5,114.26 662.83,114.27 663.16,114.27 663.5,114.27 663.83,114.28 664.16,114.28 664.49,114.28 664.82,114.28 665.15,114.29 665.49,114.29 665.82,114.29 666.15,114.29 666.48,114.29 666.81,114.29 667.14,114.29 667.48,114.3 667.81,114.3 668.14,114.3 668.47,114.3 668.8,114.3 669.14,114.3 669.47,114.3 669.8,114.3 670.13,114.3 670.46,114.3 670.79,114.3 671.13,114.3 671.46,114.3 671.79,114.3 672.12,114.3 672.45,114.3 672.78,114.3 673.12,114.3 673.45,114.3 673.78,114.3 674.11,114.3 674.44,114.3 674.77,114.3 675.11,114.3 675.44,114.3 675.77,114.3 676.1,114.3 676.43,114.3 676.77,114.3 677.1,114.3 677.43,114.3 677.76,114.3 678.09,114.3 678.42,114.3 678.76,114.3 679.09,114.3 679.42,114.3 679.75,114.3 680.08,114.3 680.41,114.3 680.75,114.3 681.08,114.3 681.41,114.3 681.74,114.3 682.07,114.3 682.4,114.3 682.74,114.3 683.07,114.3 683.4,114.3" fill="none" stroke="#111" stroke-width="1.05" stroke-linejoin="round"/>
<rect x="544.4" y="16.5" width="139.0" height="113.8" fill="none" stroke="#000" stroke-width="1.25"/>
<line x1="544.4" y1="130.3" x2="544.4" y2="132.8" stroke="#000" stroke-width="1.1"/>
<line x1="567.57" y1="130.3" x2="567.57" y2="134.9" stroke="#000" stroke-width="1.1"/>
<line x1="590.73" y1="130.3" x2="590.73" y2="132.8" stroke="#000" stroke-width="1.1"/>
<line x1="613.9" y1="130.3" x2="613.9" y2="134.9" stroke="#000" stroke-width="1.1"/>
<line x1="637.07" y1="130.3" x2="637.07" y2="132.8" stroke="#000" stroke-width="1.1"/>
<line x1="660.23" y1="130.3" x2="660.23" y2="134.9" stroke="#000" stroke-width="1.1"/>
<g font-family='"Liberation Sans", sans-serif' font-size="11" fill="#1a1a1a" stroke="#1a1a1a" stroke-width="0.18" text-anchor="middle">
<text x="567.57" y="147.5">5.5</text>
<text x="613.9" y="147.5">6.0</text>
<text x="660.23" y="147.5">6.5</text>
</g>
<text x="614.8" y="165.5" font-family='"Liberation Sans", sans-serif' font-size="15.4" text-anchor="middle" fill="#000">Time (min)</text>
<text transform="translate(536.4,72.6) rotate(-90)" font-family='"Liberation Sans", sans-serif' font-size="15.3" text-anchor="middle" fill="#000">Intensity (mAU)</text>
<text x="548.6" y="29.4" font-family='"Liberation Sans", sans-serif' font-size="10" fill="#2a2a2a" stroke="#2a2a2a" stroke-width="0.22">ee=89.6%</text>
<line x1="616.4" y1="26.2" x2="642.4" y2="26.2" stroke="#333" stroke-width="1.1"/>
<text x="646.2" y="30" font-family='"Liberation Sans", sans-serif' font-size="11" fill="#1a1a1a" stroke="#1a1a1a" stroke-width="0.18">60 min</text>
<text x="577" y="63.9" font-family='"Liberation Sans", sans-serif' font-size="10" fill="#2a2a2a" stroke="#2a2a2a" stroke-width="0.22">A<tspan font-size="7.2" dy="2.2">R</tspan><tspan dy="-2.2">=94.8%</tspan></text>
<text x="624.3" y="103.9" font-family='"Liberation Sans", sans-serif' font-size="10" fill="#2a2a2a" stroke="#2a2a2a" stroke-width="0.22">A<tspan font-size="7" dy="2.2">S</tspan><tspan dy="-2.2">=5.2%</tspan></text>
<rect x="119" y="5.0" width="2" height="7.9" fill="#1a1a1a"/>
<rect x="119" y="1.9" width="2" height="1.6" fill="#1a1a1a"/>
<rect x="283.9" y="5.0" width="2" height="7.9" fill="#1a1a1a"/>
<rect x="283.9" y="1.9" width="2" height="1.6" fill="#1a1a1a"/>
<rect x="286.3" y="5.0" width="2" height="7.9" fill="#1a1a1a"/>
<rect x="286.3" y="1.9" width="2" height="1.6" fill="#1a1a1a"/>
<rect x="450" y="5.0" width="2" height="7.9" fill="#1a1a1a"/>
<rect x="450" y="1.9" width="2" height="1.6" fill="#1a1a1a"/>
<rect x="452.5" y="5.0" width="2" height="7.9" fill="#1a1a1a"/>
<rect x="452.5" y="1.9" width="2" height="1.6" fill="#1a1a1a"/>
<rect x="454.9" y="5.0" width="2" height="7.9" fill="#1a1a1a"/>
<rect x="454.9" y="1.9" width="2" height="1.6" fill="#1a1a1a"/>
<text x="619.9" y="12.8" font-family='"Liberation Sans", sans-serif' font-size="15.5" text-anchor="middle" fill="#000">iv</text>
<rect x="62.6" y="173.4" width="152.45" height="178" fill="#FAFAEF"/>
<rect x="214.75" y="173.4" width="152.45" height="178" fill="#F4FEEE"/>
<rect x="366.9" y="173.4" width="152.45" height="178" fill="#EBFEF8"/>
<rect x="519.05" y="173.4" width="152.45" height="178" fill="#EBF7FD"/>
<path d="M138.5,230.55 141.37,231.29 144.25,232.03 147.12,232.78 150,233.52 152.87,234.25 155.74,234.99 158.62,235.73 161.49,236.46 164.37,237.19 167.24,237.91 170.11,238.64 172.99,239.35 175.86,240.07 178.73,240.78 181.61,241.48 184.48,242.18 187.36,242.87 190.23,243.56 193.1,244.24 195.98,244.91 198.85,245.58 201.73,246.24 204.6,246.89 207.47,247.53 210.35,248.16 213.22,248.78 216.1,249.4 218.97,250 221.84,250.59 224.72,251.18 227.59,251.75 230.46,252.31 233.34,252.86 236.21,253.4 239.09,253.92 241.96,254.44 244.83,254.93 247.71,255.42 250.58,255.89 253.46,256.35 256.33,256.79 259.2,257.22 262.08,257.63 264.95,258.03 267.83,258.41 270.7,258.77 273.57,259.12 276.45,259.45 279.32,259.76 282.19,260.06 285.07,260.33 287.94,260.59 290.82,260.83 293.69,261.05 296.56,261.25 299.44,261.43 302.31,261.59 305.19,261.74 308.06,261.87 310.93,261.99 313.81,262.09 316.68,262.18 319.56,262.25 322.43,262.31 325.3,262.36 328.18,262.39 331.05,262.42 333.93,262.43 336.8,262.43 339.67,262.43 342.55,262.41 345.42,262.39 348.29,262.36 351.17,262.32 354.04,262.28 356.92,262.23 359.79,262.18 362.66,262.12 365.54,262.05 368.41,261.99 371.29,261.92 374.16,261.85 377.03,261.78 379.91,261.71 382.78,261.63 385.66,261.56 388.53,261.49 391.4,261.42 394.28,261.36 397.15,261.3 400.02,261.24 402.9,261.18 405.77,261.13 408.65,261.09 411.52,261.05 414.39,261.02 417.27,261 420.14,260.98 423.02,260.97 425.89,260.98 428.76,260.99 431.64,261.01 434.51,261.04 437.39,261.09 440.26,261.15 443.13,261.22 446.01,261.31 448.88,261.4 451.76,261.52 454.63,261.64 457.5,261.78 460.38,261.93 463.25,262.09 466.12,262.26 469,262.45 471.87,262.65 474.75,262.85 477.62,263.07 480.49,263.3 483.37,263.54 486.24,263.79 489.12,264.05 491.99,264.32 494.86,264.6 497.74,264.89 500.61,265.18 503.49,265.49 506.36,265.8 509.23,266.12 512.11,266.45 514.98,266.79 517.85,267.13 520.73,267.48 523.6,267.84 526.48,268.2 529.35,268.57 532.22,268.95 535.1,269.33 537.97,269.72 540.85,270.11 543.72,270.51 546.59,270.91 549.47,271.31 552.34,271.72 555.22,272.14 558.09,272.56 560.96,272.98 563.84,273.4 566.71,273.83 569.58,274.26 572.46,274.69 575.33,275.13 578.21,275.56 581.08,276 583.95,276.44 586.83,276.88 589.7,277.32 592.58,277.76 595.45,278.2" fill="none" stroke="#EBB88C" stroke-width="2.75" stroke-dasharray="8.3 7.1 0 7.1" stroke-linecap="round"/>
<path d="M138.5,337.2 141.37,337.15 144.25,337.11 147.12,337.06 150,337.02 152.87,336.97 155.74,336.93 158.62,336.88 161.49,336.83 164.37,336.79 167.24,336.74 170.11,336.7 172.99,336.65 175.86,336.61 178.73,336.56 181.61,336.51 184.48,336.47 187.36,336.42 190.23,336.38 193.1,336.33 195.98,336.29 198.85,336.24 201.73,336.19 204.6,336.15 207.47,336.1 210.35,336.06 213.22,336.01 216.1,335.97 218.97,335.92 221.84,335.88 224.72,335.83 227.59,335.79 230.46,335.74 233.34,335.7 236.21,335.65 239.09,335.61 241.96,335.56 244.83,335.52 247.71,335.47 250.58,335.43 253.46,335.38 256.33,335.34 259.2,335.29 262.08,335.25 264.95,335.2 267.83,335.16 270.7,335.11 273.57,335.07 276.45,335.02 279.32,334.98 282.19,334.93 285.07,334.89 287.94,334.84 290.82,334.8 293.69,334.76 296.56,334.71 299.44,334.67 302.31,334.62 305.19,334.58 308.06,334.54 310.93,334.49 313.81,334.45 316.68,334.41 319.56,334.36 322.43,334.32 325.3,334.28 328.18,334.24 331.05,334.2 333.93,334.16 336.8,334.12 339.67,334.08 342.55,334.04 345.42,334 348.29,333.96 351.17,333.92 354.04,333.88 356.92,333.85 359.79,333.81 362.66,333.78 365.54,333.74 368.41,333.71 371.29,333.67 374.16,333.64 377.03,333.61 379.91,333.58 382.78,333.55 385.66,333.52 388.53,333.49 391.4,333.46 394.28,333.44 397.15,333.41 400.02,333.39 402.9,333.36 405.77,333.34 408.65,333.32 411.52,333.3 414.39,333.28 417.27,333.26 420.14,333.24 423.02,333.23 425.89,333.21 428.76,333.2 431.64,333.19 434.51,333.18 437.39,333.17 440.26,333.16 443.13,333.15 446.01,333.14 448.88,333.14 451.76,333.14 454.63,333.14 457.5,333.13 460.38,333.14 463.25,333.14 466.12,333.14 469,333.15 471.87,333.15 474.75,333.16 477.62,333.17 480.49,333.17 483.37,333.18 486.24,333.19 489.12,333.21 491.99,333.22 494.86,333.23 497.74,333.25 500.61,333.26 503.49,333.28 506.36,333.3 509.23,333.31 512.11,333.33 514.98,333.35 517.85,333.37 520.73,333.39 523.6,333.42 526.48,333.44 529.35,333.46 532.22,333.48 535.1,333.51 537.97,333.53 540.85,333.56 543.72,333.58 546.59,333.61 549.47,333.64 552.34,333.66 555.22,333.69 558.09,333.72 560.96,333.75 563.84,333.78 566.71,333.8 569.58,333.83 572.46,333.86 575.33,333.89 578.21,333.92 581.08,333.95 583.95,333.98 586.83,334.01 589.7,334.04 592.58,334.07 595.45,334.1" fill="none" stroke="#B6BEFF" stroke-width="2.75" stroke-dasharray="8.3 7.1 0 7.1" stroke-linecap="round"/>
<polygon points="138.5,217.35 141.76,226.06 151.05,226.47 143.77,232.26 146.26,241.23 138.5,236.09 130.74,241.23 133.23,232.26 125.95,226.47 135.24,226.06" fill="#EBB88C"/>
<polygon points="290.85,247.63 294.11,256.34 303.4,256.75 296.12,262.54 298.61,271.51 290.85,266.37 283.09,271.51 285.58,262.54 278.3,256.75 287.59,256.34" fill="#EBB88C"/>
<polygon points="443.1,248.02 446.36,256.73 455.65,257.14 448.37,262.93 450.86,271.9 443.1,266.76 435.34,271.9 437.83,262.93 430.55,257.14 439.84,256.73" fill="#EBB88C"/>
<polygon points="595.45,265 598.71,273.71 608,274.12 600.72,279.91 603.21,288.88 595.45,283.74 587.69,288.88 590.18,279.91 582.9,274.12 592.19,273.71" fill="#EBB88C"/>
<polygon points="138.5,324 141.76,332.71 151.05,333.12 143.77,338.91 146.26,347.88 138.5,342.74 130.74,347.88 133.23,338.91 125.95,333.12 135.24,332.71" fill="#B6BEFF"/>
<polygon points="138.5,330.1 140.2,334.66 145.06,334.87 141.26,337.9 142.56,342.58 138.5,339.9 134.44,342.58 135.74,337.9 131.94,334.87 136.8,334.66" fill="#fff"/>
<polygon points="290.85,321.6 294.11,330.31 303.4,330.72 296.12,336.51 298.61,345.48 290.85,340.34 283.09,345.48 285.58,336.51 278.3,330.72 287.59,330.31" fill="#B6BEFF"/>
<polygon points="290.85,327.7 292.55,332.26 297.41,332.47 293.61,335.5 294.91,340.18 290.85,337.5 286.79,340.18 288.09,335.5 284.29,332.47 289.15,332.26" fill="#fff"/>
<polygon points="443.1,319.95 446.36,328.66 455.65,329.07 448.37,334.86 450.86,343.83 443.1,338.69 435.34,343.83 437.83,334.86 430.55,329.07 439.84,328.66" fill="#B6BEFF"/>
<polygon points="443.1,326.05 444.8,330.61 449.66,330.82 445.86,333.85 447.16,338.53 443.1,335.85 439.04,338.53 440.34,333.85 436.54,330.82 441.4,330.61" fill="#fff"/>
<polygon points="595.45,320.9 598.71,329.61 608,330.02 600.72,335.81 603.21,344.78 595.45,339.64 587.69,344.78 590.18,335.81 582.9,330.02 592.19,329.61" fill="#B6BEFF"/>
<polygon points="595.45,327 597.15,331.56 602.01,331.77 598.21,334.8 599.51,339.48 595.45,336.8 591.39,339.48 592.69,334.8 588.89,331.77 593.75,331.56" fill="#fff"/>
<line x1="561" y1="188.1" x2="612.5" y2="188.1" stroke="#EBB88C" stroke-width="2.75" stroke-dasharray="8.3 7.1 0 7.1" stroke-linecap="round"/>
<polygon points="586.75,176.87 589.51,184.26 597.4,184.61 591.22,189.52 593.33,197.13 586.75,192.77 580.17,197.13 582.28,189.52 576.1,184.61 583.99,184.26" fill="#EBB88C"/>
<line x1="561" y1="208.4" x2="612.5" y2="208.4" stroke="#B6BEFF" stroke-width="2.75" stroke-dasharray="8.3 7.1 0 7.1" stroke-linecap="round"/>
<polygon points="586.75,197.3 589.51,204.69 597.4,205.04 591.22,209.95 593.33,217.56 586.75,213.2 580.17,217.56 582.28,209.95 576.1,205.04 583.99,204.69" fill="#B6BEFF"/>
<polygon points="586.75,202.65 588.22,206.58 592.41,206.76 589.13,209.37 590.25,213.41 586.75,211.1 583.25,213.41 584.37,209.37 581.09,206.76 585.28,206.58" fill="#fff"/>
<text x="617.6" y="193.8" font-family='"Liberation Sans", sans-serif' font-size="17" fill="#000">R-PPA</text>
<text x="617.6" y="213.7" font-family='"Liberation Sans", sans-serif' font-size="17" fill="#000">S-PPA</text>
<rect x="62.6" y="173.4" width="608.6" height="178" fill="none" stroke="#000" stroke-width="1.35"/>
<line x1="57" y1="337.2" x2="62.6" y2="337.2" stroke="#000" stroke-width="1.2"/>
<line x1="59.6" y1="319" x2="62.6" y2="319" stroke="#000" stroke-width="1.2"/>
<line x1="57" y1="300.8" x2="62.6" y2="300.8" stroke="#000" stroke-width="1.2"/>
<line x1="59.6" y1="282.6" x2="62.6" y2="282.6" stroke="#000" stroke-width="1.2"/>
<line x1="57" y1="264.4" x2="62.6" y2="264.4" stroke="#000" stroke-width="1.2"/>
<line x1="59.6" y1="246.2" x2="62.6" y2="246.2" stroke="#000" stroke-width="1.2"/>
<line x1="57" y1="228" x2="62.6" y2="228" stroke="#000" stroke-width="1.2"/>
<line x1="59.6" y1="209.8" x2="62.6" y2="209.8" stroke="#000" stroke-width="1.2"/>
<line x1="57" y1="191.6" x2="62.6" y2="191.6" stroke="#000" stroke-width="1.2"/>
<line x1="59.6" y1="173.4" x2="62.6" y2="173.4" stroke="#000" stroke-width="1.2"/>
<g font-family='"Liberation Sans", sans-serif' font-size="16" fill="#000" text-anchor="end">
<text x="52.4" y="343">0</text>
<text x="52.4" y="306.6">1</text>
<text x="52.4" y="270.2">2</text>
<text x="52.4" y="233.8">3</text>
<text x="52.4" y="197.4">4</text>
</g>
<g font-family='"Liberation Sans", sans-serif' font-size="16" fill="#000" text-anchor="middle">
<line x1="138.68" y1="351.4" x2="138.68" y2="356.9" stroke="#000" stroke-width="1.2"/>
<text x="138.68" y="374.0">15</text>
<line x1="290.83" y1="351.4" x2="290.83" y2="356.9" stroke="#000" stroke-width="1.2"/>
<text x="290.83" y="374.0">30</text>
<line x1="442.98" y1="351.4" x2="442.98" y2="356.9" stroke="#000" stroke-width="1.2"/>
<text x="442.98" y="374.0">45</text>
<line x1="595.12" y1="351.4" x2="595.12" y2="356.9" stroke="#000" stroke-width="1.2"/>
<text x="595.12" y="374.0">60</text>
</g>
<text x="367.0" y="397.8" font-family='"Liberation Sans", sans-serif' font-size="19.3" text-anchor="middle" fill="#000">Time (min)</text>
<text transform="translate(36.9,264.6) rotate(-90)" font-family='"Liberation Sans", sans-serif' font-size="18.1" text-anchor="middle" fill="#000">Flux (10<tspan font-size="11.7" dy="-7.4">-3</tspan><tspan dy="7.4"> mol m</tspan><tspan font-size="11.7" dy="-7.4">-2</tspan><tspan dy="7.4"> h</tspan><tspan font-size="11.7" dy="-7.4">-1</tspan><tspan dy="7.4">)</tspan></text>
<rect x="63" y="405.9" width="152.35" height="177.6" fill="#FAFAEF"/>
<rect x="215.05" y="405.9" width="152.35" height="177.6" fill="#F4FEEE"/>
<rect x="367.1" y="405.9" width="152.35" height="177.6" fill="#EBFEF8"/>
<rect x="519.15" y="405.9" width="152.35" height="177.6" fill="#EBF7FD"/>
<rect x="116.12" y="414.4" width="45.8" height="169.1" fill="url(#bar)"/>
<rect x="268.18" y="424.88" width="45.8" height="158.62" fill="url(#bar)"/>
<rect x="420.23" y="431.31" width="45.8" height="152.19" fill="url(#bar)"/>
<rect x="572.28" y="431.99" width="45.8" height="151.51" fill="url(#bar)"/>
<text x="599" y="426.1" font-family='"Liberation Sans", sans-serif' font-size="13.6" text-anchor="middle" fill="#D03A3A">90%</text>
<rect x="63.0" y="405.9" width="608.2" height="177.6" fill="none" stroke="#262626" stroke-width="1.6"/>
<line x1="62.0" y1="431.41" x2="673" y2="431.41" stroke="#D63A3A" stroke-width="1.6" stroke-dasharray="4.0 2.72"/>
<line x1="57.4" y1="583.5" x2="63.0" y2="583.5" stroke="#000" stroke-width="1.2"/>
<line x1="60" y1="566.59" x2="63.0" y2="566.59" stroke="#000" stroke-width="1.2"/>
<line x1="57.4" y1="549.68" x2="63.0" y2="549.68" stroke="#000" stroke-width="1.2"/>
<line x1="60" y1="532.77" x2="63.0" y2="532.77" stroke="#000" stroke-width="1.2"/>
<line x1="57.4" y1="515.86" x2="63.0" y2="515.86" stroke="#000" stroke-width="1.2"/>
<line x1="60" y1="498.95" x2="63.0" y2="498.95" stroke="#000" stroke-width="1.2"/>
<line x1="57.4" y1="482.04" x2="63.0" y2="482.04" stroke="#000" stroke-width="1.2"/>
<line x1="60" y1="465.13" x2="63.0" y2="465.13" stroke="#000" stroke-width="1.2"/>
<line x1="57.4" y1="448.22" x2="63.0" y2="448.22" stroke="#000" stroke-width="1.2"/>
<line x1="60" y1="431.31" x2="63.0" y2="431.31" stroke="#000" stroke-width="1.2"/>
<line x1="57.4" y1="414.4" x2="63.0" y2="414.4" stroke="#000" stroke-width="1.2"/>
<g font-family='"Liberation Sans", sans-serif' font-size="16" fill="#000" text-anchor="end">
<text x="53.6" y="589.3">0</text>
<text x="53.6" y="555.48">20</text>
<text x="53.6" y="521.66">40</text>
<text x="53.6" y="487.84">60</text>
<text x="53.6" y="454.02">80</text>
<text x="53.6" y="420.2">100</text>
</g>
<g font-family='"Liberation Sans", sans-serif' font-size="16" fill="#000" text-anchor="middle">
<line x1="139.03" y1="583.5" x2="139.03" y2="589.3" stroke="#000" stroke-width="1.2"/>
<text x="139.03" y="605.8">15</text>
<line x1="291.08" y1="583.5" x2="291.08" y2="589.3" stroke="#000" stroke-width="1.2"/>
<text x="291.08" y="605.8">30</text>
<line x1="443.12" y1="583.5" x2="443.12" y2="589.3" stroke="#000" stroke-width="1.2"/>
<text x="443.12" y="605.8">45</text>
<line x1="595.18" y1="583.5" x2="595.18" y2="589.3" stroke="#000" stroke-width="1.2"/>
<text x="595.18" y="605.8">60</text>
</g>
<text x="367.2" y="629.9" font-family='"Liberation Sans", sans-serif' font-size="19.3" text-anchor="middle" fill="#000">Time (min)</text>
<text transform="translate(19.6,494.3) rotate(-90)" font-family='"Liberation Sans", sans-serif' font-size="19.5" text-anchor="middle" fill="#000">ee (%)</text>
</svg></body></html>
